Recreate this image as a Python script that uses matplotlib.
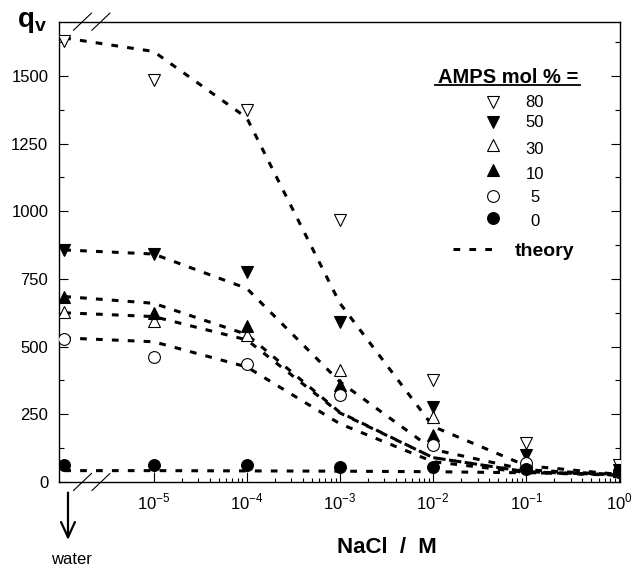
import numpy as np
import matplotlib
matplotlib.use("Agg")
from matplotlib import pyplot as plt
from matplotlib.ticker import FixedLocator, NullFormatter

plt.rcParams['font.family'] = 'Liberation Sans'
plt.rcParams['mathtext.fontset'] = 'custom'
plt.rcParams['mathtext.rm'] = 'Liberation Sans'
plt.rcParams['mathtext.bf'] = 'Liberation Sans:bold'

# NaCl concentration (M); first entry stands for pure water
salt = [1.1e-6, 1e-5, 1e-4, 1e-3, 1e-2, 1e-1, 1e0]

ampls = ["80", "50", "30", "10", "5", "0"]

# measured q_v
q80 = [1627, 1483, 1374, 968, 377, 143, 63]
q50 = [857, 842, 775, 590, 278, 100, 45]
q30 = [629, 595, 543, 413, 241, 78, 42]
q10 = [685, 624, 576, 360, 174, 62, 40]
q5 = [527, 463, 437, 323, 137, 72, 38]
q0 = [63, 63, 63, 57, 54, 47, 40]

# theory curves
t80 = [1640, 1590, 1345, 660, 205, 60, 28]
t50 = [857, 842, 715, 370, 120, 45, 27]
t30 = [625, 611, 525, 255, 90, 38, 26]
t10 = [685, 660, 545, 257, 90, 38, 26]
t5 = [532, 518, 425, 215, 75, 35, 25]
t0 = [42, 42, 41, 40, 38, 34, 30]

measured = [q80, q50, q30, q10, q5, q0]
theory = [t80, t50, t30, t10, t5, t0]
markers = ["v", "v", "^", "^", "o", "o"]
faces = ["white", "black", "white", "black", "white", "black"]

fig = plt.figure(figsize=(6.34, 5.66), dpi=100)
ax = fig.add_axes([0.0938, 0.1484, 0.884, 0.8133])

dash = (0, (2.2, 3.0))
for t in theory:
    ax.plot(salt, t, color="black", lw=2.2, linestyle=dash, zorder=2)
for q, m, fc in zip(measured, markers, faces):
    ms = 8.5 if m == "o" else 8.5
    ax.plot(salt, q, linestyle="none", marker=m, ms=ms, mfc=fc, mec="black",
            mew=0.8, zorder=3)

ax.set_xscale("log")
ax.set_xlim(10 ** -6.01, 10 ** 0.005)
ax.set_ylim(0, 1700)

ax.xaxis.set_major_locator(FixedLocator([1e-5, 1e-4, 1e-3, 1e-2, 1e-1, 1e0]))
ax.set_xticklabels([r"$10^{-5}$", r"$10^{-4}$", r"$10^{-3}$", r"$10^{-2}$",
                    r"$10^{-1}$", r"$10^{0}$"])
minors = [k * 10.0 ** e for e in range(-5, 0) for k in range(2, 10)]
ax.xaxis.set_minor_locator(FixedLocator(minors))
ax.xaxis.set_minor_formatter(NullFormatter())
ax.set_yticks(np.arange(0, 1501, 250))
ax.set_yticks(np.arange(125, 1700, 250), minor=True)

ax.tick_params(axis="both", which="both", direction="in", labelsize=12,
               width=0.8)
ax.tick_params(axis="y", which="both", right=True)
ax.tick_params(axis="y", which="major", length=6.5, pad=8)
ax.tick_params(axis="y", which="minor", length=3.6)
ax.tick_params(axis="x", which="major", length=7, pad=7)
ax.tick_params(axis="x", which="minor", length=3.2)
for s in ax.spines.values():
    s.set_linewidth(1.0)

# axis break marks
for xc in (0.041, 0.074):
    for yc in (0.0, 1.0):
        ax.plot([xc - 0.016, xc + 0.016], [yc - 0.0185, yc + 0.0185],
                color="black", lw=0.8, transform=ax.transAxes, clip_on=False)

# axis labels
ax.text(-0.075, 1.0, r"$\mathbf{q}_\mathbf{v}$", transform=ax.transAxes,
        fontsize=20, ha="left", va="center")
ax.text(0.585, -0.143, "NaCl  /  M", transform=ax.transAxes, fontsize=16,
        fontweight="bold", ha="center", va="center")

# water arrow
ax.annotate("", xy=(0.0152, -0.132), xytext=(0.0152, -0.017),
            xycoords="axes fraction", textcoords="axes fraction",
            arrowprops=dict(arrowstyle="->,head_length=0.55,head_width=0.25",
                            lw=1.6, color="black", mutation_scale=20))
ax.text(0.0223, -0.168, "water", transform=ax.transAxes, fontsize=12,
        ha="center", va="center")

# legend
ax.text(0.80, 0.8777, "AMPS mol % =", transform=ax.transAxes, fontsize=14.5,
        fontweight="bold", ha="center", va="center")
ax.plot([0.6697, 0.9285], [0.8625, 0.8625], color="black", lw=1.3,
        transform=ax.transAxes)
mk_y = [0.826, 0.7827, 0.732, 0.678, 0.621, 0.5735]
lb_y = [0.8234, 0.780, 0.7234, 0.669, 0.617, 0.565]
for lab, m, fc, my, ly in zip(ampls, markers, faces, mk_y, lb_y):
    ax.plot([0.7734], [my], marker=m, ms=8.5, mfc=fc, mec="black", mew=0.8,
            transform=ax.transAxes, linestyle="none")
    ax.text(0.848, ly, lab, transform=ax.transAxes, fontsize=12,
            ha="center", va="center")
ax.plot([0.702, 0.772], [0.506, 0.506], color="black", lw=2.2, linestyle=dash,
        transform=ax.transAxes)
ax.text(0.866, 0.4997, "theory", transform=ax.transAxes, fontsize=14,
        fontweight="bold", ha="center", va="center")

fig.savefig("out.png", dpi=100)
